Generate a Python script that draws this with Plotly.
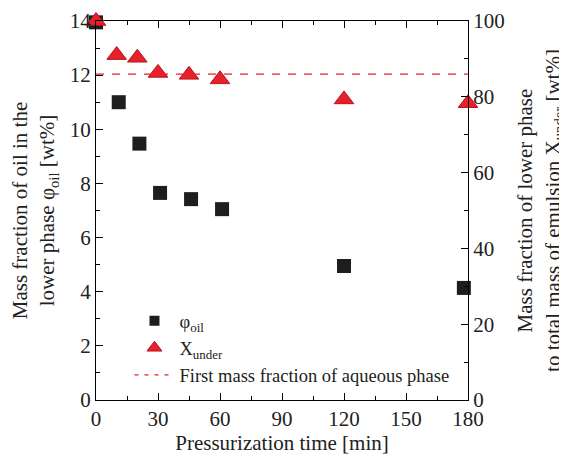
import plotly.graph_objects as go

# Data
t_oil = [0, 11, 21, 31, 46, 61, 120, 178]
phi_oil = [13.95, 11.0, 9.47, 7.65, 7.42, 7.05, 4.95, 4.14]
t_under = [0, 10, 20, 30, 45, 60, 120, 180]
x_under = [100, 91.0, 90.3, 86.3, 85.8, 84.6, 79.3, 78.3]
first_frac = 86.0
line_x = [0, 180]

FONT = "Liberation Serif"
RED = "#e8202a"
BLACK = "#1e1e1e"

fig = go.Figure()
fig.add_trace(go.Scatter(
    x=t_oil, y=phi_oil, mode="markers", name="φ<sub>oil</sub>", showlegend=False,
    marker=dict(symbol="square", size=14, color=BLACK), cliponaxis=False))
fig.add_trace(go.Scatter(
    x=t_under, y=x_under, mode="markers", name="X<sub>under</sub>", yaxis="y2", showlegend=False,
    marker=dict(symbol="triangle-up", size=17, color=RED,
                line=dict(color="#b0161e", width=1)), cliponaxis=False))
fig.add_trace(go.Scatter(
    x=line_x, y=[first_frac, first_frac], mode="lines", yaxis="y2", showlegend=False,
    name="First mass fraction of aqueous phase",
    line=dict(color=RED, width=1.2, dash="8px,8px")))

# legend entries (smaller symbols, as in the reference legend)
fig.add_trace(go.Scatter(x=[None], y=[None], mode="markers", name="φ<sub>oil</sub>",
                         marker=dict(symbol="square", size=10, color=BLACK)))
fig.add_trace(go.Scatter(x=[None], y=[None], mode="markers", name="X<sub>under</sub>",
                         marker=dict(symbol="triangle-up", size=13, color=RED,
                                     line=dict(color="#b0161e", width=1))))
fig.add_trace(go.Scatter(x=[None], y=[None], mode="lines",
                         name="First mass fraction of aqueous phase",
                         line=dict(color=RED, width=1.2, dash="4px,6px")))

axis_common = dict(showgrid=False, zeroline=False, showline=True, linecolor="black",
                   linewidth=1.2, ticks="inside", ticklen=7, tickcolor="black",
                   automargin=False,
                   tickfont=dict(family=FONT, size=21, color="#222"))

fig.update_layout(
    width=559, height=452,
    margin=dict(l=88, r=99, t=13, b=60),
    paper_bgcolor="white", plot_bgcolor="white",
    font=dict(family=FONT, size=18, color="#222"),
    showlegend=True,
    legend=dict(x=0.09, y=0.258, xanchor="left", yanchor="top",
                bgcolor="rgba(0,0,0,0)", font=dict(family=FONT, size=18.5),
                itemwidth=40, tracegroupgap=0),
    xaxis=dict(range=[0, 180], dtick=30, mirror="ticks",
               minor=dict(dtick=15, ticks="inside", ticklen=4, tickcolor="black"),
               title=dict(text="Pressurization time [min]", font=dict(family=FONT, size=21), standoff=4),
               **axis_common),
    yaxis=dict(range=[0, 14], dtick=2,
               minor=dict(dtick=1, ticks="inside", ticklen=4, tickcolor="black"),
               title=dict(text="Mass fraction of oil in the<br>lower phase φ<sub>oil</sub> [wt%]",
                          font=dict(family=FONT, size=21), standoff=13),
               **axis_common),
    yaxis2=dict(range=[0, 100], dtick=20, overlaying="y", side="right",
                minor=dict(dtick=10, ticks="inside", ticklen=4, tickcolor="black"),
                title=dict(text="Mass fraction of lower phase<br>to total mass of emulsion X<sub>under</sub> [wt%]",
                           font=dict(family=FONT, size=21), standoff=18),
                **axis_common),
)

fig.write_html("out.html")
